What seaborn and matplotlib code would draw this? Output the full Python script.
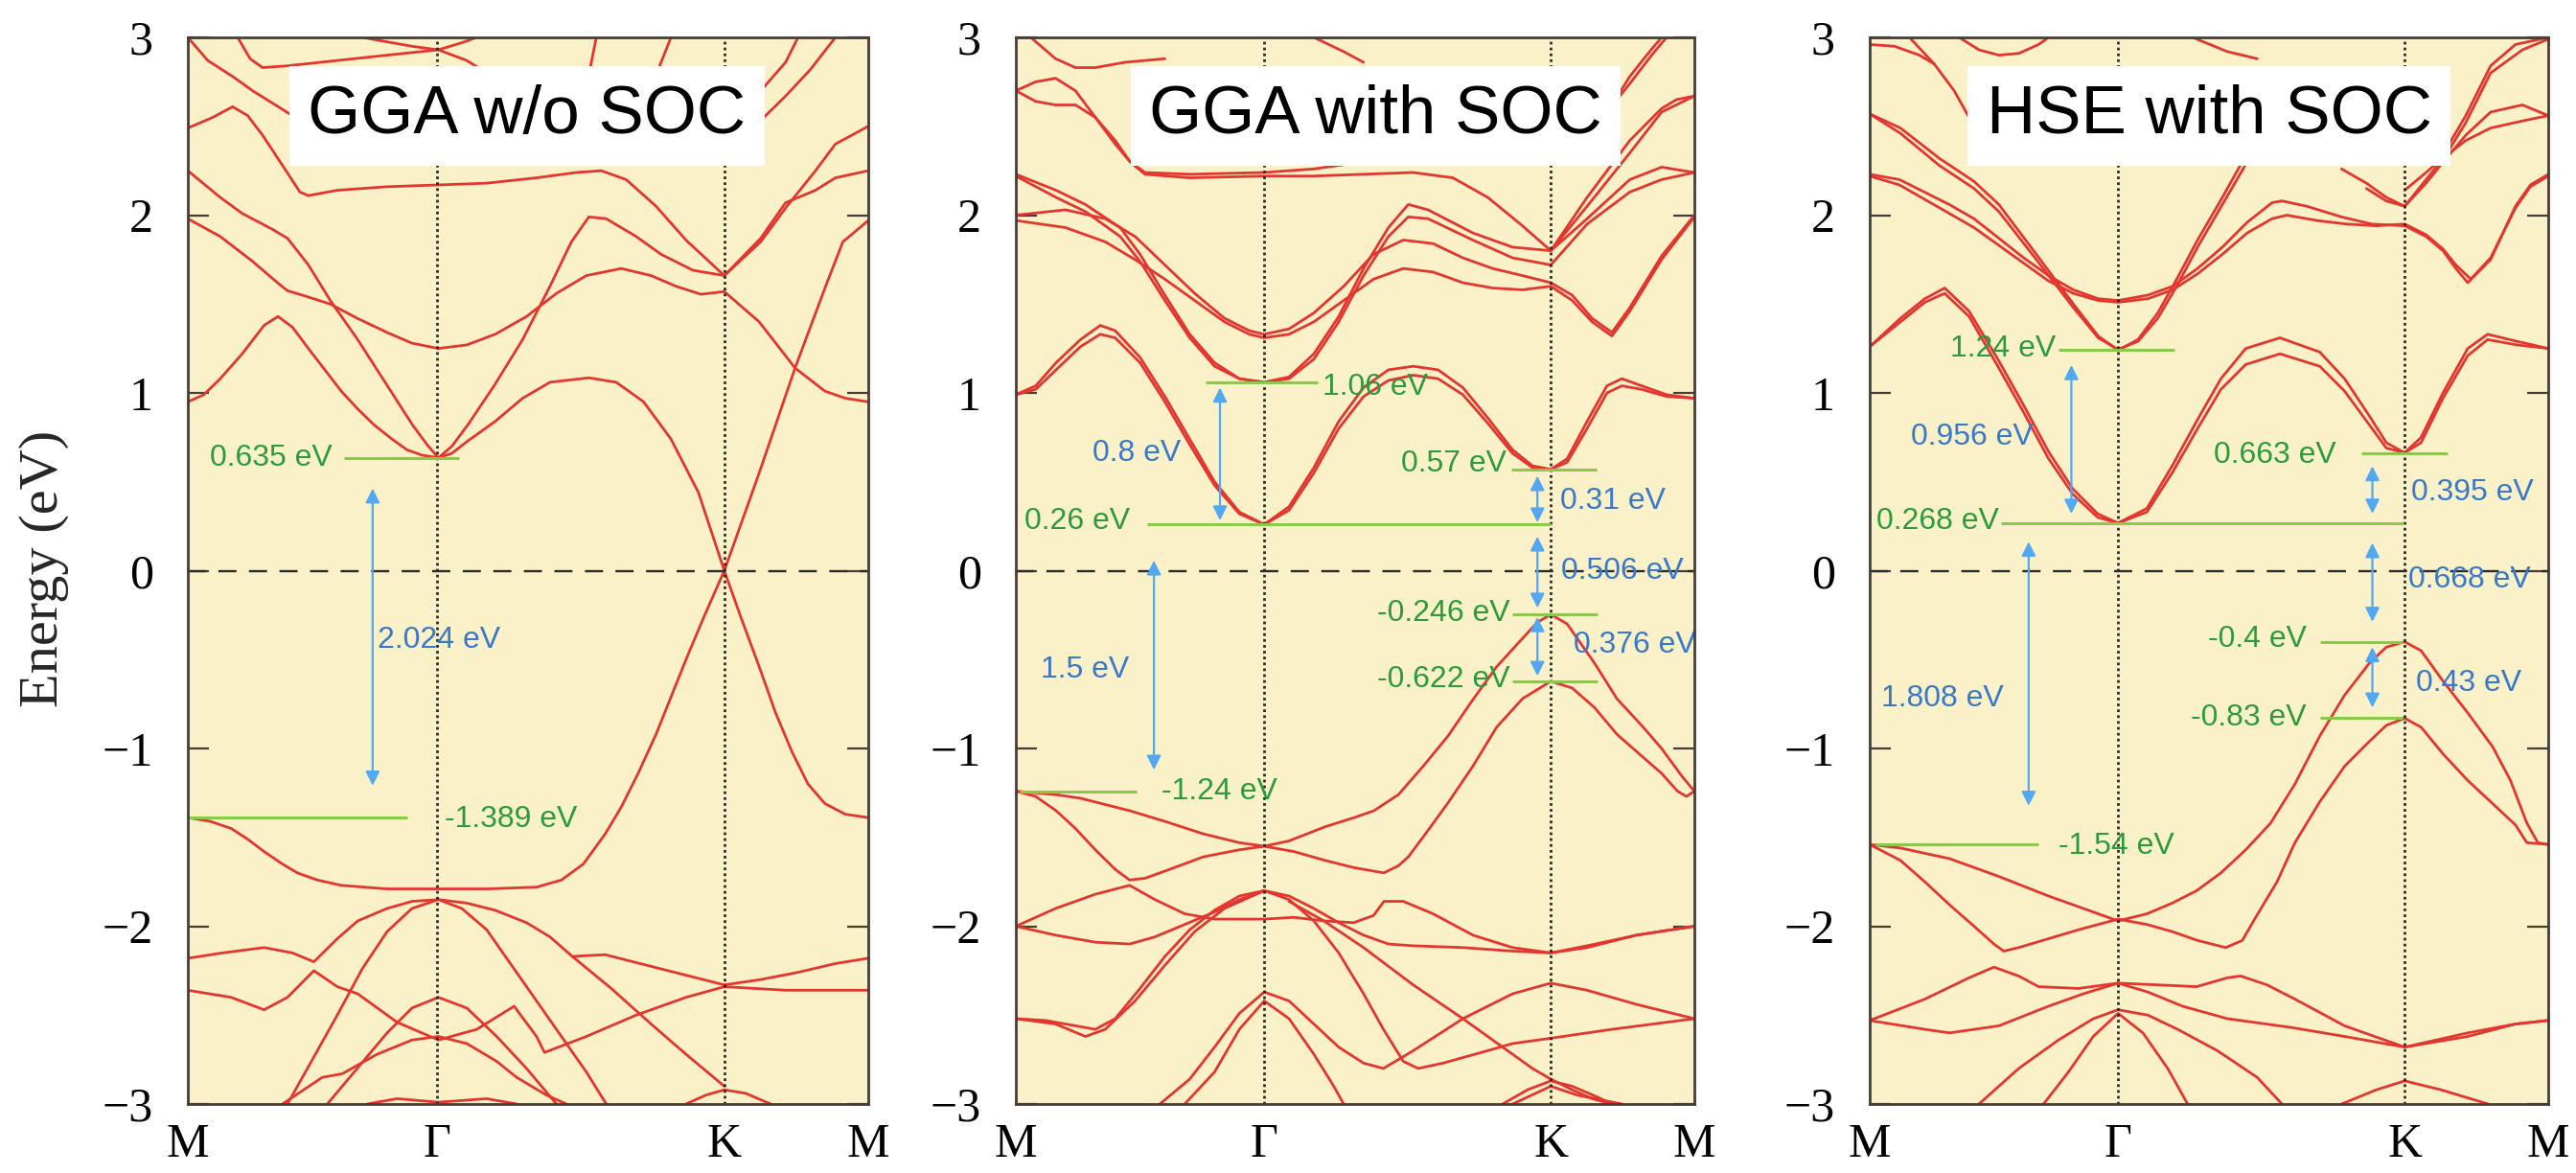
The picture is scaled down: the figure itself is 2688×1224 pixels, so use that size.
import matplotlib
matplotlib.use("Agg")
import matplotlib.pyplot as plt
import pandas as pd
import seaborn as sns

# ---------------------------------------------------------------------------
# High-symmetry path M - Gamma - K - M (|Gamma M| = 0.5 reciprocal units)
# ---------------------------------------------------------------------------
k_ticks = [0.0, 0.5, 1.077, 1.366]
k_labels = ["M", "Γ", "K", "M"]
energy_ticks = [-3, -2, -1, 0, 1, 2, 3]
titles = ["GGA w/o SOC", "GGA with SOC", "HSE with SOC"]

# ----------------------------- GGA w/o SOC ---------------------------------
nosoc_c1 = [(0.0, 0.95), (0.032, 0.99), (0.065, 1.08), (0.109, 1.22), (0.153, 1.38), (0.181, 1.43),
            (0.21, 1.37), (0.242, 1.25), (0.275, 1.13), (0.308, 1.01), (0.341, 0.91), (0.374, 0.82),
            (0.41, 0.74), (0.44, 0.68), (0.47, 0.65), (0.503, 0.635), (0.53, 0.66), (0.562, 0.73),
            (0.617, 0.84), (0.672, 0.97), (0.727, 1.06), (0.805, 1.085), (0.86, 1.06), (0.915, 0.95),
            (0.97, 0.74), (1.025, 0.44), (1.077, 0.0)]
nosoc_c1k = [(1.077, 0.0), (1.147, 0.55), (1.219, 1.14), (1.279, 1.59), (1.315, 1.85), (1.366, 1.97)]
nosoc_c2 = [(0.0, 1.98), (0.065, 1.88), (0.13, 1.74), (0.18, 1.62), (0.2, 1.575), (0.23, 1.55),
            (0.286, 1.50), (0.34, 1.42), (0.40, 1.34), (0.45, 1.28), (0.503, 1.25), (0.56, 1.27),
            (0.617, 1.33), (0.68, 1.43), (0.74, 1.56), (0.80, 1.66), (0.87, 1.70), (0.93, 1.66),
            (0.98, 1.60), (1.03, 1.555), (1.077, 1.57), (1.147, 1.40), (1.219, 1.14), (1.279, 1.01),
            (1.32, 0.97), (1.366, 0.95)]
nosoc_c3 = [(0.0, 2.25), (0.065, 2.10), (0.109, 2.01), (0.17, 1.92), (0.2, 1.87), (0.242, 1.72),
            (0.286, 1.52), (0.341, 1.30), (0.396, 1.06), (0.451, 0.82), (0.48, 0.71), (0.503, 0.635),
            (0.53, 0.70), (0.562, 0.82), (0.617, 1.05), (0.672, 1.30), (0.727, 1.60), (0.77, 1.85),
            (0.805, 1.99), (0.84, 1.98), (0.90, 1.88), (0.95, 1.78), (1.014, 1.69), (1.077, 1.66),
            (1.15, 1.85), (1.2, 2.04), (1.26, 2.25), (1.30, 2.40), (1.366, 2.5)]
nosoc_c4 = [(0.0, 2.49), (0.05, 2.55), (0.09, 2.61), (0.12, 2.56), (0.15, 2.45), (0.19, 2.28),
            (0.225, 2.13), (0.242, 2.11), (0.3, 2.14), (0.4, 2.16), (0.503, 2.17), (0.6, 2.18),
            (0.7, 2.21), (0.78, 2.24), (0.83, 2.25), (0.88, 2.2), (0.94, 2.05), (1.0, 1.86),
            (1.077, 1.66), (1.15, 1.87), (1.2, 2.07), (1.26, 2.14), (1.30, 2.21), (1.366, 2.25)]
nosoc_t1 = [(0.1, 3.0), (0.125, 2.88), (0.15, 2.83), (0.2, 2.84), (0.3, 2.87), (0.4, 2.90),
            (0.503, 2.93), (0.56, 2.87), (0.6, 2.8)]
nosoc_t2 = [(0.35, 3.0), (0.45, 2.95), (0.503, 2.93), (0.55, 2.97), (0.58, 3.0)]
nosoc_t3 = [(0.0, 3.0), (0.04, 2.87), (0.09, 2.78), (0.13, 2.70), (0.21, 2.56), (0.25, 2.5)]
nosoc_t4 = [(0.8, 2.7), (0.81, 2.86), (0.82, 3.0)]
nosoc_t5 = [(0.93, 2.7), (0.95, 2.86), (0.97, 3.0)]
nosoc_t6 = [(1.12, 2.45), (1.2, 2.67), (1.25, 2.82), (1.3, 3.0)]
nosoc_t7 = [(1.15, 2.70), (1.2, 2.86), (1.225, 3.0)]
nosoc_v1 = [(0.0, -1.389), (0.045, -1.41), (0.087, -1.45), (0.12, -1.51), (0.153, -1.58), (0.19, -1.65),
            (0.22, -1.70), (0.26, -1.74), (0.308, -1.77), (0.40, -1.79), (0.503, -1.79), (0.6, -1.79),
            (0.70, -1.78), (0.75, -1.74), (0.794, -1.65), (0.838, -1.48), (0.87, -1.33), (0.904, -1.14),
            (0.94, -0.92), (0.97, -0.71), (1.0, -0.50), (1.036, -0.26), (1.077, 0.0), (1.11, -0.26),
            (1.147, -0.54), (1.18, -0.80), (1.213, -1.02), (1.245, -1.20), (1.279, -1.31), (1.32, -1.37),
            (1.366, -1.389)]
nosoc_v2 = [(0.0, -2.18), (0.07, -2.15), (0.153, -2.12), (0.21, -2.15), (0.253, -2.20), (0.30, -2.07),
            (0.341, -1.97), (0.40, -1.90), (0.45, -1.86), (0.503, -1.85), (0.56, -1.87), (0.617, -1.91),
            (0.68, -1.98), (0.727, -2.06), (0.772, -2.17), (0.838, -2.16), (0.95, -2.24), (1.077, -2.33),
            (1.15, -2.30), (1.224, -2.26), (1.30, -2.21), (1.366, -2.18)]
nosoc_v3 = [(0.2, -3.0), (0.25, -2.75), (0.3, -2.50), (0.35, -2.24), (0.4, -2.03), (0.45, -1.90),
            (0.503, -1.85), (0.55, -1.90), (0.6, -2.02), (0.65, -2.22), (0.70, -2.42), (0.75, -2.62),
            (0.80, -2.82), (0.84, -3.0)]
nosoc_v4 = [(0.0, -2.36), (0.087, -2.40), (0.153, -2.47), (0.2, -2.40), (0.253, -2.25), (0.30, -2.34),
            (0.341, -2.38), (0.42, -2.54), (0.503, -2.64), (0.58, -2.58), (0.655, -2.45), (0.70, -2.62),
            (0.716, -2.71), (0.8, -2.62), (0.9, -2.50), (1.0, -2.40), (1.077, -2.34), (1.2, -2.36),
            (1.366, -2.36)]
nosoc_v5 = [(0.28, -3.0), (0.34, -2.80), (0.40, -2.60), (0.45, -2.46), (0.503, -2.40), (0.56, -2.46),
            (0.62, -2.62), (0.68, -2.80), (0.74, -3.0)]
nosoc_v6 = [(0.19, -3.0), (0.27, -2.85), (0.31, -2.83), (0.38, -2.72), (0.45, -2.64), (0.503, -2.62),
            (0.56, -2.66), (0.62, -2.76), (0.66, -2.85), (0.72, -2.95), (0.76, -3.0)]
nosoc_v7 = [(0.36, -3.0), (0.42, -2.97), (0.503, -2.99), (0.6, -2.97), (0.66, -3.0)]
nosoc_v8 = [(0.772, -2.17), (0.85, -2.35), (0.93, -2.55), (1.0, -2.72), (1.077, -2.90)]
nosoc_v9 = [(1.0, -3.0), (1.04, -2.95), (1.077, -2.92), (1.12, -2.94), (1.17, -3.0)]

# ----------------------------- GGA with SOC --------------------------------
soc_c1a = [(0.0, 0.99), (0.04, 1.04), (0.081, 1.17), (0.13, 1.30), (0.17, 1.38), (0.20, 1.35), (0.25, 1.20),
           (0.30, 0.98), (0.35, 0.74), (0.40, 0.50), (0.45, 0.33), (0.50, 0.26), (0.55, 0.36), (0.60, 0.58),
           (0.65, 0.84), (0.70, 1.03), (0.75, 1.13), (0.80, 1.15), (0.85, 1.13), (0.90, 1.03), (0.95, 0.86),
           (1.0, 0.68), (1.04, 0.59), (1.077, 0.57), (1.11, 0.63), (1.15, 0.84), (1.19, 1.04), (1.22, 1.08),
           (1.26, 1.04), (1.31, 0.99), (1.366, 0.97)]
soc_c1b = [(0.0, 0.99), (0.04, 1.02), (0.081, 1.13), (0.13, 1.26), (0.17, 1.33), (0.20, 1.31), (0.25, 1.17),
           (0.30, 0.95), (0.35, 0.71), (0.40, 0.48), (0.45, 0.32), (0.50, 0.26), (0.55, 0.34), (0.60, 0.55),
           (0.65, 0.80), (0.70, 0.98), (0.75, 1.07), (0.80, 1.10), (0.85, 1.08), (0.90, 0.99), (0.95, 0.83),
           (1.0, 0.66), (1.04, 0.58), (1.077, 0.57), (1.11, 0.61), (1.15, 0.80), (1.19, 1.00), (1.22, 1.04),
           (1.26, 1.02), (1.31, 0.98), (1.366, 0.97)]
soc_c2a = [(0.0, 2.23), (0.081, 2.14), (0.14, 2.06), (0.21, 1.93), (0.25, 1.78), (0.30, 1.55), (0.35, 1.33),
           (0.40, 1.17), (0.45, 1.08), (0.50, 1.06), (0.55, 1.09), (0.60, 1.22), (0.65, 1.43), (0.70, 1.70),
           (0.75, 1.93), (0.79, 2.06), (0.83, 2.03), (0.92, 1.90), (1.0, 1.82), (1.077, 1.80), (1.15, 2.05),
           (1.236, 2.35), (1.30, 2.58), (1.366, 2.67)]
soc_c2b = [(0.0, 2.22), (0.081, 2.10), (0.14, 2.02), (0.21, 1.88), (0.25, 1.74), (0.30, 1.52), (0.35, 1.31),
           (0.40, 1.15), (0.45, 1.08), (0.50, 1.06), (0.55, 1.08), (0.60, 1.19), (0.65, 1.40), (0.70, 1.66),
           (0.75, 1.88), (0.79, 1.99), (0.83, 1.98), (0.92, 1.86), (1.0, 1.76), (1.077, 1.72), (1.15, 1.95),
           (1.236, 2.13), (1.30, 2.20), (1.366, 2.24)]
soc_c3a = [(0.0, 2.0), (0.1, 2.03), (0.18, 1.98), (0.24, 1.88), (0.3, 1.72), (0.36, 1.56), (0.42, 1.42),
           (0.47, 1.35), (0.5, 1.33), (0.55, 1.36), (0.6, 1.45), (0.66, 1.60), (0.72, 1.78), (0.78, 1.86),
           (0.84, 1.84), (0.9, 1.76), (0.96, 1.70), (1.02, 1.66), (1.077, 1.62), (1.12, 1.55), (1.16, 1.42),
           (1.2, 1.34), (1.236, 1.48), (1.3, 1.77), (1.366, 2.0)]
soc_c3b = [(0.0, 1.97), (0.1, 1.93), (0.18, 1.85), (0.24, 1.75), (0.3, 1.64), (0.36, 1.52), (0.42, 1.40),
           (0.47, 1.33), (0.5, 1.31), (0.55, 1.33), (0.6, 1.40), (0.66, 1.52), (0.72, 1.64), (0.78, 1.70),
           (0.84, 1.68), (0.9, 1.62), (0.96, 1.59), (1.02, 1.58), (1.077, 1.60), (1.12, 1.52), (1.16, 1.40),
           (1.2, 1.32), (1.236, 1.46), (1.3, 1.75), (1.366, 1.99)]
soc_t1 = [(0.0, 2.70), (0.04, 2.75), (0.08, 2.77), (0.12, 2.70), (0.16, 2.55), (0.2, 2.40), (0.23, 2.30),
          (0.26, 2.23), (0.35, 2.21), (0.5, 2.22), (0.6, 2.22), (0.7, 2.23), (0.8, 2.24), (0.88, 2.21),
          (0.95, 2.10), (1.02, 1.94), (1.077, 1.80)]
soc_t2 = [(0.0, 2.70), (0.04, 2.64), (0.08, 2.62), (0.12, 2.62), (0.16, 2.55), (0.2, 2.42), (0.23, 2.30),
          (0.26, 2.24), (0.35, 2.23), (0.5, 2.24), (0.6, 2.26), (0.7, 2.30)]
soc_t3 = [(0.03, 3.0), (0.08, 2.88), (0.12, 2.83), (0.16, 2.83), (0.22, 2.86), (0.3, 2.88)]
soc_t4 = [(0.6, 3.0), (0.66, 2.92), (0.70, 2.86)]
soc_t5 = [(1.2, 2.62), (1.236, 2.78), (1.27, 2.9), (1.30, 3.0)]
soc_t6 = [(1.19, 2.58), (1.236, 2.74), (1.28, 2.9), (1.31, 3.0)]
soc_t7 = [(1.077, 1.80), (1.15, 1.98), (1.236, 2.20), (1.30, 2.27), (1.366, 2.24)]
soc_t8 = [(1.077, 1.80), (1.15, 2.10), (1.236, 2.42), (1.30, 2.60), (1.33, 2.65), (1.366, 2.67)]
soc_v1 = [(0.0, -1.24), (0.081, -1.26), (0.13, -1.28), (0.229, -1.35), (0.30, -1.41), (0.377, -1.48),
          (0.45, -1.53), (0.5, -1.55), (0.55, -1.52), (0.623, -1.44), (0.68, -1.39), (0.721, -1.35),
          (0.77, -1.26), (0.82, -1.10), (0.87, -0.93), (0.919, -0.73), (0.968, -0.54), (1.017, -0.39),
          (1.05, -0.29), (1.077, -0.246), (1.11, -0.30), (1.165, -0.52), (1.21, -0.72), (1.263, -0.88),
          (1.30, -1.0), (1.342, -1.16), (1.366, -1.24)]
soc_v2 = [(0.0, -1.24), (0.04, -1.27), (0.081, -1.35), (0.12, -1.45), (0.16, -1.57), (0.2, -1.68),
          (0.229, -1.74), (0.26, -1.73), (0.30, -1.69), (0.377, -1.61), (0.45, -1.57), (0.5, -1.55),
          (0.56, -1.58), (0.623, -1.63), (0.68, -1.67), (0.741, -1.70), (0.77, -1.66), (0.79, -1.61),
          (0.83, -1.46), (0.869, -1.31), (0.92, -1.10), (0.968, -0.88), (1.02, -0.72), (1.077, -0.622),
          (1.12, -0.66), (1.165, -0.77), (1.21, -0.92), (1.263, -1.05), (1.30, -1.14), (1.332, -1.24),
          (1.35, -1.27), (1.366, -1.24)]
soc_v3a = [(0.0, -2.0), (0.08, -1.90), (0.16, -1.82), (0.229, -1.77), (0.28, -1.85), (0.34, -1.93),
           (0.40, -1.96), (0.5, -1.96), (0.56, -1.95), (0.62, -1.97), (0.68, -1.98), (0.72, -1.94),
           (0.741, -1.86), (0.78, -1.86), (0.84, -1.93), (0.92, -2.05), (1.0, -2.12), (1.077, -2.15),
           (1.15, -2.12), (1.25, -2.05), (1.366, -2.0)]
soc_v3b = [(0.0, -2.0), (0.08, -2.05), (0.16, -2.09), (0.229, -2.10), (0.28, -2.06), (0.34, -1.99),
           (0.40, -1.92), (0.45, -1.85), (0.5, -1.80), (0.55, -1.83), (0.6, -1.90), (0.65, -1.98),
           (0.7, -2.05), (0.75, -2.10), (0.8, -2.11), (0.9, -2.12), (1.0, -2.14), (1.077, -2.15),
           (1.15, -2.11), (1.25, -2.05), (1.366, -2.0)]
soc_v4a = [(0.0, -2.52), (0.06, -2.53), (0.12, -2.56), (0.16, -2.58), (0.2, -2.52), (0.25, -2.35),
           (0.3, -2.17), (0.35, -2.02), (0.40, -1.91), (0.45, -1.83), (0.5, -1.80), (0.55, -1.85),
           (0.6, -1.97), (0.65, -2.15), (0.70, -2.38), (0.74, -2.58), (0.78, -2.76), (0.81, -2.80),
           (0.86, -2.77), (0.95, -2.70), (1.0, -2.66), (1.077, -2.63), (1.2, -2.58), (1.366, -2.52)]
soc_v4b = [(0.0, -2.52), (0.08, -2.55), (0.14, -2.62), (0.18, -2.58), (0.24, -2.42), (0.3, -2.22),
           (0.36, -2.03), (0.42, -1.90), (0.5, -1.80)]
soc_v5 = [(0.55, -1.86), (0.62, -1.97), (0.7, -2.12), (0.8, -2.33), (0.9, -2.52), (0.98, -2.68),
          (1.04, -2.80), (1.077, -2.86), (1.12, -2.92), (1.16, -2.97), (1.2, -3.0)]
soc_v6a = [(0.29, -3.0), (0.35, -2.86), (0.40, -2.68), (0.45, -2.49), (0.5, -2.37), (0.55, -2.42),
           (0.6, -2.55), (0.65, -2.68), (0.7, -2.77), (0.74, -2.80), (0.8, -2.70), (0.9, -2.52),
           (1.0, -2.38), (1.077, -2.32), (1.15, -2.36), (1.25, -2.44), (1.366, -2.52)]
soc_v6b = [(0.34, -3.0), (0.4, -2.82), (0.45, -2.58), (0.5, -2.42), (0.55, -2.52), (0.6, -2.72),
           (0.64, -2.9), (0.66, -3.0)]
soc_v7a = [(0.98, -3.0), (1.03, -2.92), (1.077, -2.87), (1.12, -2.9), (1.17, -2.96), (1.2, -3.0)]
soc_v7b = [(1.0, -3.0), (1.077, -2.9), (1.13, -2.95), (1.22, -3.0)]

# ----------------------------- HSE with SOC --------------------------------
hse_c1a = [(0.0, 1.26), (0.062, 1.42), (0.111, 1.53), (0.151, 1.59), (0.2, 1.46), (0.26, 1.18), (0.31, 0.93),
           (0.36, 0.67), (0.409, 0.46), (0.459, 0.32), (0.5, 0.268), (0.558, 0.35), (0.609, 0.59),
           (0.658, 0.84), (0.707, 1.08), (0.757, 1.25), (0.826, 1.31), (0.906, 1.23), (0.956, 1.08),
           (1.006, 0.87), (1.04, 0.72), (1.077, 0.663), (1.11, 0.75), (1.154, 1.0), (1.204, 1.25),
           (1.244, 1.33), (1.303, 1.29), (1.366, 1.25)]
hse_c1b = [(0.0, 1.26), (0.062, 1.40), (0.111, 1.51), (0.151, 1.56), (0.2, 1.43), (0.26, 1.14), (0.31, 0.89),
           (0.36, 0.63), (0.409, 0.43), (0.459, 0.30), (0.5, 0.268), (0.558, 0.33), (0.609, 0.55),
           (0.658, 0.79), (0.707, 1.02), (0.757, 1.16), (0.826, 1.22), (0.906, 1.15), (0.956, 1.01),
           (1.006, 0.82), (1.04, 0.69), (1.077, 0.663), (1.11, 0.72), (1.154, 0.97), (1.204, 1.21),
           (1.244, 1.30), (1.303, 1.27), (1.366, 1.25)]
hse_c2a = [(0.0, 2.57), (0.062, 2.49), (0.14, 2.32), (0.21, 2.19), (0.26, 2.06), (0.33, 1.80), (0.41, 1.50),
           (0.46, 1.32), (0.5, 1.24), (0.54, 1.30), (0.58, 1.45), (0.62, 1.65), (0.66, 1.86), (0.71, 2.10),
           (0.76, 2.35), (0.8, 2.55)]
hse_c2b = [(0.0, 2.57), (0.062, 2.46), (0.14, 2.28), (0.21, 2.15), (0.26, 2.02), (0.33, 1.77), (0.41, 1.48),
           (0.46, 1.31), (0.5, 1.245), (0.54, 1.29), (0.58, 1.42), (0.62, 1.61), (0.66, 1.82), (0.71, 2.06),
           (0.76, 2.30), (0.8, 2.50)]
hse_c3a = [(0.0, 2.23), (0.06, 2.20), (0.11, 2.13), (0.16, 2.06), (0.21, 1.98), (0.26, 1.87), (0.31, 1.76),
           (0.36, 1.66), (0.41, 1.58), (0.46, 1.53), (0.5, 1.52), (0.56, 1.55), (0.61, 1.60), (0.66, 1.70),
           (0.71, 1.82), (0.76, 1.96), (0.81, 2.07), (0.83, 2.08), (0.88, 2.05), (0.95, 1.99), (1.01, 1.95),
           (1.077, 1.94), (1.12, 1.88), (1.154, 1.80), (1.18, 1.70), (1.204, 1.62), (1.25, 1.75),
           (1.30, 2.05), (1.33, 2.17), (1.366, 2.23)]
hse_c3b = [(0.0, 2.22), (0.06, 2.17), (0.11, 2.09), (0.16, 2.01), (0.21, 1.93), (0.26, 1.83), (0.31, 1.73),
           (0.36, 1.63), (0.41, 1.56), (0.46, 1.52), (0.5, 1.51), (0.56, 1.53), (0.61, 1.58), (0.66, 1.67),
           (0.71, 1.78), (0.76, 1.90), (0.81, 1.98), (0.84, 2.0), (0.9, 1.97), (0.96, 1.95), (1.02, 1.94),
           (1.077, 1.95), (1.12, 1.89), (1.154, 1.81), (1.18, 1.72), (1.21, 1.64), (1.25, 1.76),
           (1.30, 2.04), (1.33, 2.16), (1.366, 2.22)]
hse_c4a = [(1.0, 2.15), (1.04, 2.08), (1.077, 2.05), (1.12, 2.18), (1.158, 2.31), (1.2, 2.45), (1.25, 2.58),
           (1.314, 2.62), (1.366, 2.56)]
hse_c4b = [(1.077, 2.05), (1.12, 2.2), (1.158, 2.33), (1.2, 2.42), (1.25, 2.49), (1.314, 2.53), (1.366, 2.56)]
hse_c5a = [(1.077, 2.14), (1.12, 2.24), (1.158, 2.33), (1.2, 2.52), (1.25, 2.8), (1.314, 2.93), (1.366, 2.99)]
hse_c5b = [(1.158, 2.36), (1.2, 2.56), (1.25, 2.84), (1.30, 2.96), (1.366, 3.0)]
hse_c6 = [(0.95, 2.26), (1.0, 2.18), (1.04, 2.1), (1.077, 2.05)]
hse_t1 = [(0.08, 3.0), (0.13, 2.85), (0.17, 2.70), (0.21, 2.50), (0.25, 2.35)]
hse_t2 = [(0.0, 2.96), (0.05, 2.95), (0.1, 2.90), (0.13, 2.85)]
hse_t3 = [(0.18, 3.0), (0.22, 2.93), (0.26, 2.9), (0.3, 2.91), (0.34, 2.96), (0.36, 3.0)]
hse_t4 = [(0.65, 3.0), (0.72, 2.92), (0.78, 2.88)]
hse_v1 = [(0.0, -1.54), (0.062, -1.56), (0.161, -1.62), (0.26, -1.72), (0.36, -1.83), (0.43, -1.90),
          (0.5, -1.97), (0.558, -1.93), (0.609, -1.87), (0.658, -1.80), (0.707, -1.70), (0.757, -1.57),
          (0.807, -1.42), (0.856, -1.20), (0.906, -0.93), (0.956, -0.70), (1.006, -0.52), (1.04, -0.43),
          (1.077, -0.40), (1.11, -0.45), (1.154, -0.62), (1.204, -0.80), (1.254, -0.99), (1.29, -1.18),
          (1.323, -1.42), (1.345, -1.53), (1.366, -1.54)]
hse_v2 = [(0.0, -1.54), (0.062, -1.63), (0.111, -1.75), (0.161, -1.88), (0.21, -2.0), (0.25, -2.10),
          (0.27, -2.14), (0.3, -2.12), (0.36, -2.07), (0.42, -2.02), (0.5, -1.96), (0.558, -1.99),
          (0.609, -2.03), (0.66, -2.08), (0.717, -2.12), (0.75, -2.08), (0.777, -1.95), (0.82, -1.75),
          (0.856, -1.53), (0.906, -1.30), (0.956, -1.10), (1.006, -0.96), (1.04, -0.87), (1.077, -0.83),
          (1.11, -0.88), (1.154, -1.03), (1.204, -1.18), (1.254, -1.31), (1.30, -1.43), (1.323, -1.53),
          (1.366, -1.54)]
hse_v3 = [(0.0, -2.53), (0.111, -2.41), (0.2, -2.29), (0.25, -2.23), (0.3, -2.28), (0.34, -2.34),
          (0.42, -2.35), (0.5, -2.32), (0.58, -2.33), (0.658, -2.34), (0.72, -2.29), (0.747, -2.28),
          (0.8, -2.33), (0.856, -2.41), (0.956, -2.56), (1.077, -2.68), (1.204, -2.60), (1.3, -2.55),
          (1.366, -2.53)]
hse_v4 = [(0.0, -2.53), (0.111, -2.58), (0.161, -2.60), (0.26, -2.56), (0.36, -2.45), (0.43, -2.38),
          (0.5, -2.32), (0.56, -2.37), (0.63, -2.45), (0.72, -2.52), (0.85, -2.57), (0.956, -2.62),
          (1.077, -2.68), (1.204, -2.62), (1.3, -2.55), (1.366, -2.53)]
hse_v5 = [(0.22, -3.0), (0.3, -2.80), (0.38, -2.64), (0.45, -2.52), (0.5, -2.47), (0.56, -2.50),
          (0.62, -2.58), (0.7, -2.70), (0.78, -2.85), (0.83, -3.0)]
hse_v6 = [(0.35, -3.0), (0.4, -2.82), (0.45, -2.62), (0.5, -2.49), (0.55, -2.60), (0.6, -2.80), (0.64, -3.0)]
hse_v7 = [(0.95, -3.0), (1.02, -2.92), (1.077, -2.87), (1.15, -2.92), (1.245, -3.0)]

# ------------------------- marked levels and gaps (eV) ---------------------
nosoc_levels = [0.635, -1.389]
nosoc_gaps = [(-1.389, 2.024)]                       # (lower level, gap)
soc_levels = [1.06, 0.26, 0.57, -0.246, -0.622, -1.24]
soc_gaps = [(0.26, 0.8), (0.26, 0.31), (-0.246, 0.506), (-0.622, 0.376), (-1.24, 1.5)]
hse_levels = [1.24, 0.268, 0.663, -0.4, -0.83, -1.54]
hse_gaps = [(0.268, 0.956), (0.268, 0.395), (-0.4, 0.668), (-0.83, 0.43), (-1.54, 1.808)]

# ------------------------------- layout -------------------------------------
nosoc_level_span = [(0.313, 0.545), (0.0, 0.44)]
nosoc_level_text = [(0.29, 0.635, "right"), (0.515, -1.40, "left")]
nosoc_gap_x = [0.371]
nosoc_gap_shrink = [(24, 23)]
nosoc_gap_text = [(0.38, -0.39, "left")]

soc_level_span = [(0.382, 0.608), (0.264, 1.076), (0.998, 1.17), (1.0, 1.172), (1.0, 1.172), (0.007, 0.244)]
soc_level_text = [(0.618, 1.035, "left"), (0.229, 0.28, "right"), (0.988, 0.60, "right"),
                  (0.995, -0.24, "right"), (0.995, -0.61, "right"), (0.293, -1.24, "left")]
soc_gap_x = [0.411, 1.05, 1.05, 1.05, 0.278]
soc_gap_shrink = [(3, 4), (1.5, 5), (5, 9), (4, 2), (16, 27)]
soc_gap_text = [(0.332, 0.66, "right"), (1.096, 0.39, "left"), (1.097, 0.0, "left"),
                (1.123, -0.42, "left"), (0.229, -0.56, "right")]

hse_level_span = [(0.38, 0.613), (0.265, 1.075), (0.99, 1.164), (0.906, 1.072), (0.906, 1.072), (0.012, 0.34)]
hse_level_text = [(0.375, 1.25, "right"), (0.26, 0.28, "right"), (0.94, 0.65, "right"),
                  (0.88, -0.385, "right"), (0.88, -0.825, "right"), (0.38, -1.55, "left")]
hse_gap_x = [0.406, 1.012, 1.012, 1.012, 0.32]
hse_gap_shrink = [(7, 9), (7, 10), (15, 15), (8, 4), (29, 14)]
hse_gap_text = [(0.33, 0.75, "right"), (1.09, 0.44, "left"), (1.085, -0.05, "left"),
                (1.10, -0.635, "left"), (0.27, -0.72, "right")]

title_x = [0.681, 0.724, 0.683]

panels = [
    dict(bands=[nosoc_c1, nosoc_c1k, nosoc_c2, nosoc_c3, nosoc_c4, nosoc_t1, nosoc_t2, nosoc_t3,
                nosoc_t4, nosoc_t5, nosoc_t6, nosoc_t7, nosoc_v1, nosoc_v2, nosoc_v3, nosoc_v4,
                nosoc_v5, nosoc_v6, nosoc_v7, nosoc_v8, nosoc_v9],
         levels=nosoc_levels, gaps=nosoc_gaps, level_span=nosoc_level_span,
         level_text=nosoc_level_text, gap_x=nosoc_gap_x, gap_shrink=nosoc_gap_shrink,
         gap_text=nosoc_gap_text),
    dict(bands=[soc_c1a, soc_c1b, soc_c2a, soc_c2b, soc_c3a, soc_c3b, soc_t1, soc_t2, soc_t3, soc_t4,
                soc_t5, soc_t6, soc_t7, soc_t8, soc_v1, soc_v2, soc_v3a, soc_v3b, soc_v4a, soc_v4b,
                soc_v5, soc_v6a, soc_v6b, soc_v7a, soc_v7b],
         levels=soc_levels, gaps=soc_gaps, level_span=soc_level_span,
         level_text=soc_level_text, gap_x=soc_gap_x, gap_shrink=soc_gap_shrink,
         gap_text=soc_gap_text),
    dict(bands=[hse_c1a, hse_c1b, hse_c2a, hse_c2b, hse_c3a, hse_c3b, hse_c4a, hse_c4b, hse_c5a,
                hse_c5b, hse_c6, hse_t1, hse_t2, hse_t3, hse_t4, hse_v1, hse_v2, hse_v3, hse_v4,
                hse_v5, hse_v6, hse_v7],
         levels=hse_levels, gaps=hse_gaps, level_span=hse_level_span,
         level_text=hse_level_text, gap_x=hse_gap_x, gap_shrink=hse_gap_shrink,
         gap_text=hse_gap_text),
]

# ------------------------------- styling -------------------------------------
sns.set_theme(style="white")
plt.rcParams["font.family"] = ["Liberation Sans", "DejaVu Sans"]
plt.rcParams["axes.unicode_minus"] = True

BG = "#FAF1C9"
BAND = "#E2362E"
LEVEL = "#8CC84B"
LEVEL_TXT = "#2E9A3C"
GAP = "#52A8F2"
GAP_TXT = "#3A78C8"
FRAME = "#463c38"
SERIF = ["Liberation Serif", "DejaVu Serif"]

fig = plt.figure(figsize=(26.88, 12.24), dpi=100)
rects = [(0.07292, 0.05882, 0.26414, 0.90931),
         (0.39435, 0.05882, 0.26340, 0.90931),
         (0.72582, 0.05882, 0.26340, 0.90931)]


def band_frame(bands):
    rows = []
    for i, pts in enumerate(bands):
        for k, e in pts:
            rows.append((i, k, e))
    return pd.DataFrame(rows, columns=["band", "k", "E"])


def fmt(v):
    return f"{v:g} eV"


for ax_rect, panel, title, tx in zip(rects, panels, titles, title_x):
    ax = fig.add_axes(ax_rect)
    ax.set_facecolor(BG)

    sns.lineplot(data=band_frame(panel["bands"]), x="k", y="E", units="band",
                 estimator=None, sort=False, color=BAND, lw=2.0, ax=ax,
                 legend=False, zorder=2)

    ax.set_xlim(k_ticks[0], k_ticks[-1])
    ax.set_ylim(-3, 3)
    ax.set_xlabel("")
    ax.set_ylabel("")

    # Fermi level and high-symmetry markers
    ax.axhline(0, color="#2a2a2a", lw=1.7, ls=(0, (8, 5.5)), zorder=3)
    for kv in k_ticks[1:3]:
        ax.axvline(kv, color="#2a2a2a", lw=2.0, ls=(0, (1, 1.2)), zorder=3)

    # marked band extrema
    for val, (k0, k1), (lx, ly, ha) in zip(panel["levels"], panel["level_span"], panel["level_text"]):
        ax.hlines(val, k0, k1, color=LEVEL, lw=2.2, zorder=4)
        ax.text(lx, ly, fmt(val), color=LEVEL_TXT, fontsize=23, ha=ha, va="center", zorder=6)

    # gaps between extrema
    for (lo, gap), gx, (s_lo, s_hi), (lx, ly, ha) in zip(panel["gaps"], panel["gap_x"],
                                                         panel["gap_shrink"], panel["gap_text"]):
        ax.annotate("", xy=(gx, lo + gap), xytext=(gx, lo),
                    arrowprops=dict(arrowstyle="<|-|>", color=GAP, lw=1.6,
                                    mutation_scale=22, shrinkA=s_lo, shrinkB=s_hi),
                    zorder=5)
        ax.text(lx, ly, fmt(gap), color=GAP_TXT, fontsize=23, ha=ha, va="center", zorder=6)

    ax.text(tx, 2.56, title, fontsize=51, ha="center", va="center", color="black", zorder=10,
            bbox=dict(boxstyle="square,pad=0.27", fc="white", ec="none"))

    ax.set_xticks(k_ticks)
    ax.set_xticklabels(k_labels, fontfamily=SERIF, fontsize=36)
    ax.set_yticks(energy_ticks)
    ax.set_yticklabels([f"{v:d}".replace("-", "\u2212") for v in energy_ticks],
                       fontfamily=SERIF, fontsize=36)
    ax.tick_params(axis="y", direction="in", length=16, width=1.6, left=True, right=True,
                   labelright=False, pad=26, color=FRAME, labelcolor="black")
    ax.tick_params(axis="x", length=0, pad=14, labelcolor="black")
    for sp in ax.spines.values():
        sp.set_visible(True)
        sp.set_color(FRAME)
        sp.set_linewidth(2.0)
        sp.set_zorder(8)

fig.text(46 / 2688, 1 - 593 / 1224, "Energy (eV)", rotation=90, ha="center", va="center",
         fontfamily=SERIF, fontsize=42)

fig.savefig("out.png", dpi=100, facecolor="white")
